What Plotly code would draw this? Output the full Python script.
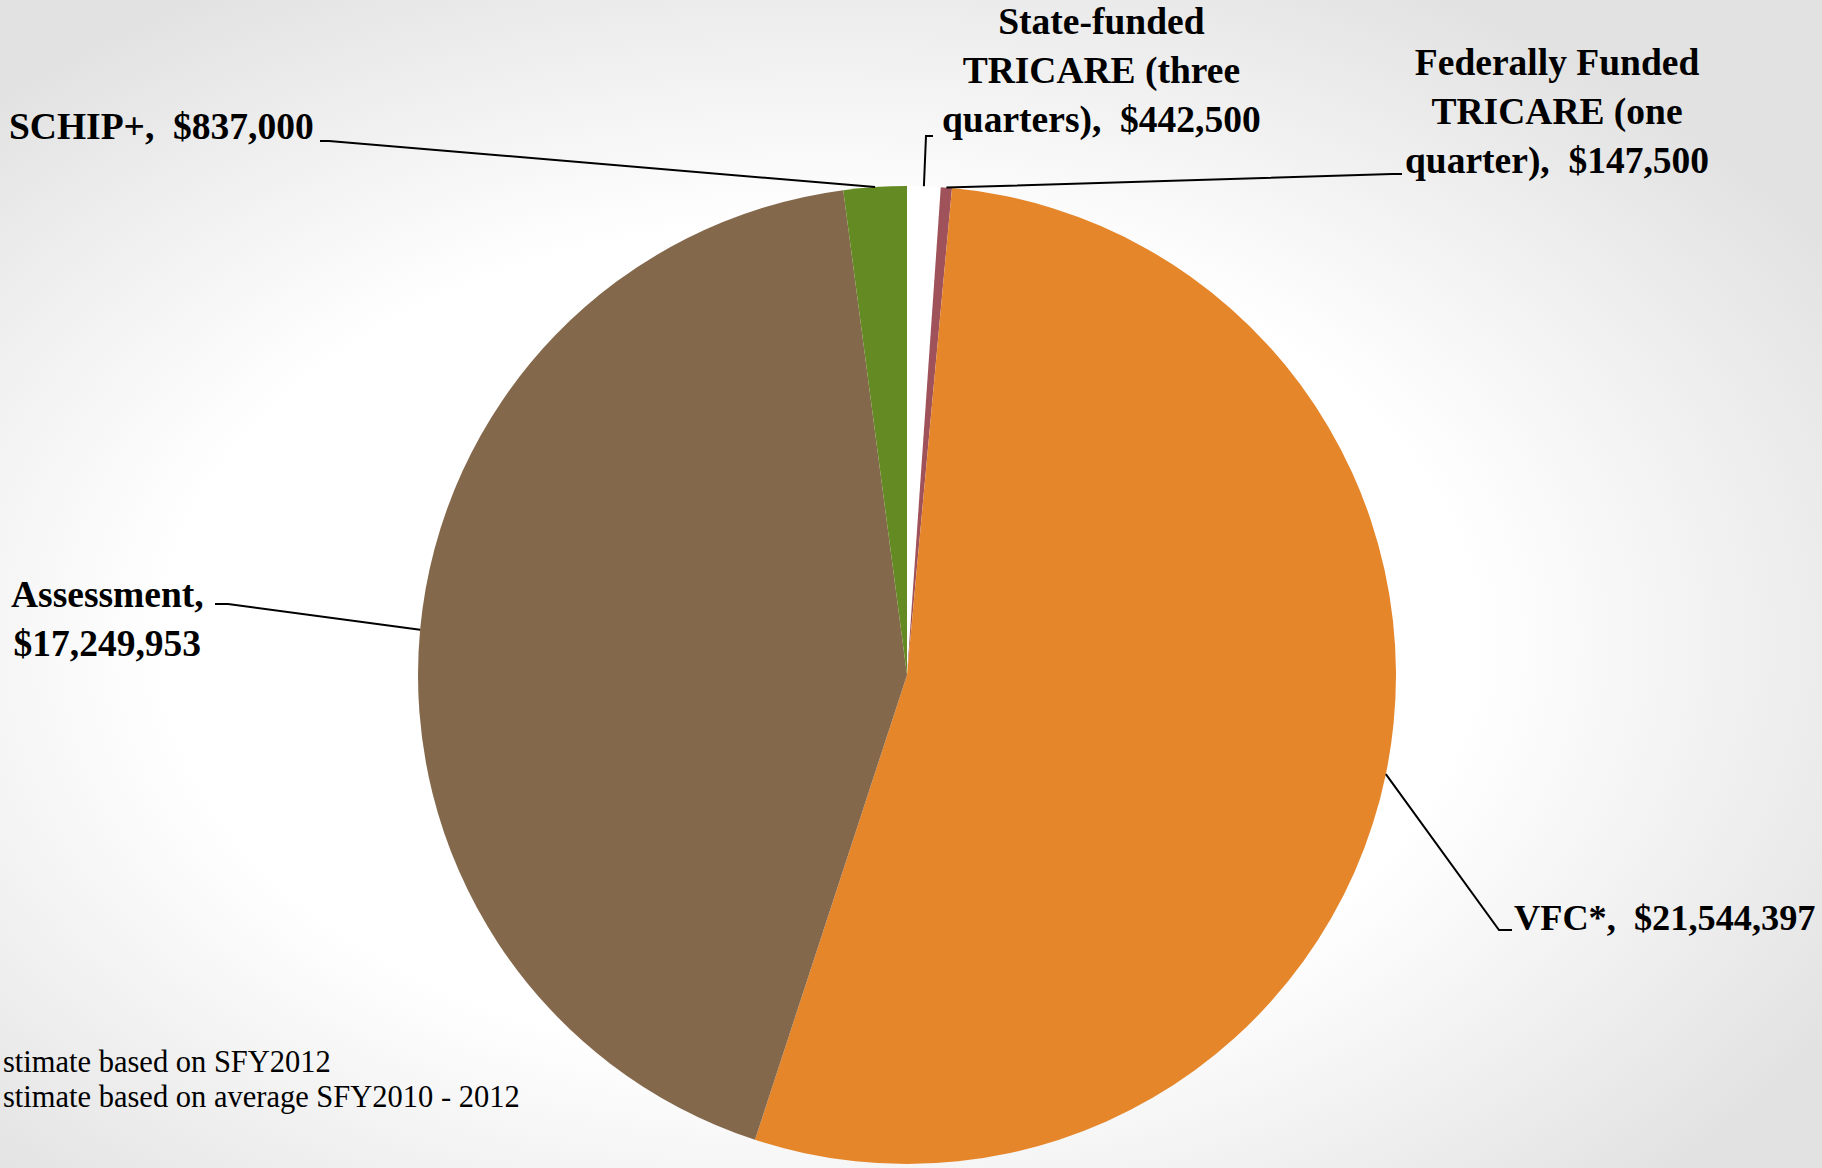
import base64
import math
import plotly.graph_objects as go

W, H = 1822, 1168

# ---- data (clockwise from 12 o'clock) ----
categories = [
    "State-funded TRICARE (three quarters)",
    "Federally Funded TRICARE (one quarter)",
    "VFC*",
    "Assessment",
    "SCHIP+",
]
values = [442500, 147500, 21544397, 17249953, 837000]
value_labels = ["$442,500", "$147,500", "$21,544,397", "$17,249,953", "$837,000"]
colors = ["#FFFFFF", "#A0525A", "#E6862A", "#84684B", "#648A23"]

footnotes = ["stimate based on SFY2012", "stimate based on average SFY2010 - 2012"]

# ---- pie geometry (pixels) ----
cx, cy, r = 907, 675, 489
dom_x = [(cx - r) / W, (cx + r) / W]
dom_y = [(H - cy - r) / H, (H - cy + r) / H]

fig = go.Figure(go.Pie(
    labels=categories,
    values=values,
    sort=False,
    direction="clockwise",
    rotation=0,
    marker=dict(colors=colors, line=dict(width=0)),
    textinfo="none",
    hoverinfo="label+value",
    domain=dict(x=dom_x, y=dom_y),
    showlegend=False,
))

def px(x):
    return x / W

def py(y):
    return 1 - y / H

# slice mid-point on the pie rim, from the data
total = sum(values)
rim = []
acc = 0
for v in values:
    mid = (acc + v / 2) / total * 2 * math.pi
    rim.append((cx + r * math.sin(mid), cy - r * math.cos(mid)))
    acc += v

NB = "\u00a0"
label_text = [
    "State-funded<br>TRICARE (three<br>quarters)," + NB + NB + value_labels[0],
    "Federally Funded<br>TRICARE (one<br>quarter)," + NB + NB + value_labels[1],
    "VFC*," + NB + NB + value_labels[2],
    "Assessment,<br>" + value_labels[3],
    "SCHIP+," + NB + NB + value_labels[4],
]
# (x, y, xanchor, tick_start, tick_end, font size)
label_pos = [
    (1101, 71, "center", (933, 136), (926, 136), 37.5),
    (1557, 112, "center", (1402, 174), (1392, 174), 37.5),
    (1512, 918, "left", (1512, 930), (1499, 930), 36.3),
    (107, 619, "center", (215, 604), (228, 604), 37.5),
    (316, 126, "right", (320, 141), (329, 141), 37.5),
]

FONT = "Liberation Serif"
annotations = []
shapes = []
for i, (lx, ly, xa, t0, t1, fs) in enumerate(label_pos):
    annotations.append(dict(
        x=px(lx), y=py(ly), xref="paper", yref="paper",
        text="<b>" + label_text[i] + "</b>", showarrow=False,
        xanchor=xa, yanchor="middle", align="center",
        font=dict(family=FONT, size=fs, color="#000000"),
    ))
    rx, ry = rim[i]
    path = "M {} {} L {} {} L {} {}".format(
        px(t0[0]), py(t0[1]), px(t1[0]), py(t1[1]), px(rx), py(ry))
    shapes.append(dict(type="path", xref="paper", yref="paper", path=path,
                       line=dict(color="#000000", width=2)))

for j, (txt, yb) in enumerate(zip(footnotes, [1062, 1097])):
    annotations.append(dict(
        x=px(1), y=py(yb), xref="paper", yref="paper", text=txt,
        showarrow=False, xanchor="left", yanchor="middle",
        font=dict(family=FONT, size=30.5, color="#000000"),
    ))

# radial grey-to-white slide background
svg = (
    '<svg xmlns="http://www.w3.org/2000/svg" width="{w}" height="{h}">'
    '<defs><radialGradient id="g" cx="0.45" cy="0.55" r="0.65">'
    '<stop offset="0" stop-color="#ffffff"/>'
    '<stop offset="0.55" stop-color="#ffffff"/>'
    '<stop offset="1" stop-color="#e2e2e2"/>'
    '</radialGradient></defs>'
    '<rect width="{w}" height="{h}" fill="url(#g)"/></svg>'
).format(w=W, h=H)
src = "data:image/svg+xml;base64," + base64.b64encode(svg.encode()).decode()

fig.update_layout(
    width=W, height=H,
    margin=dict(l=0, r=0, t=0, b=0),
    paper_bgcolor="#ffffff",
    plot_bgcolor="rgba(0,0,0,0)",
    annotations=annotations,
    shapes=shapes,
    images=[dict(source=src, xref="paper", yref="paper", x=0, y=1,
                 sizex=1, sizey=1, sizing="stretch", layer="below",
                 xanchor="left", yanchor="top")],
)

fig.write_html("out.html")
